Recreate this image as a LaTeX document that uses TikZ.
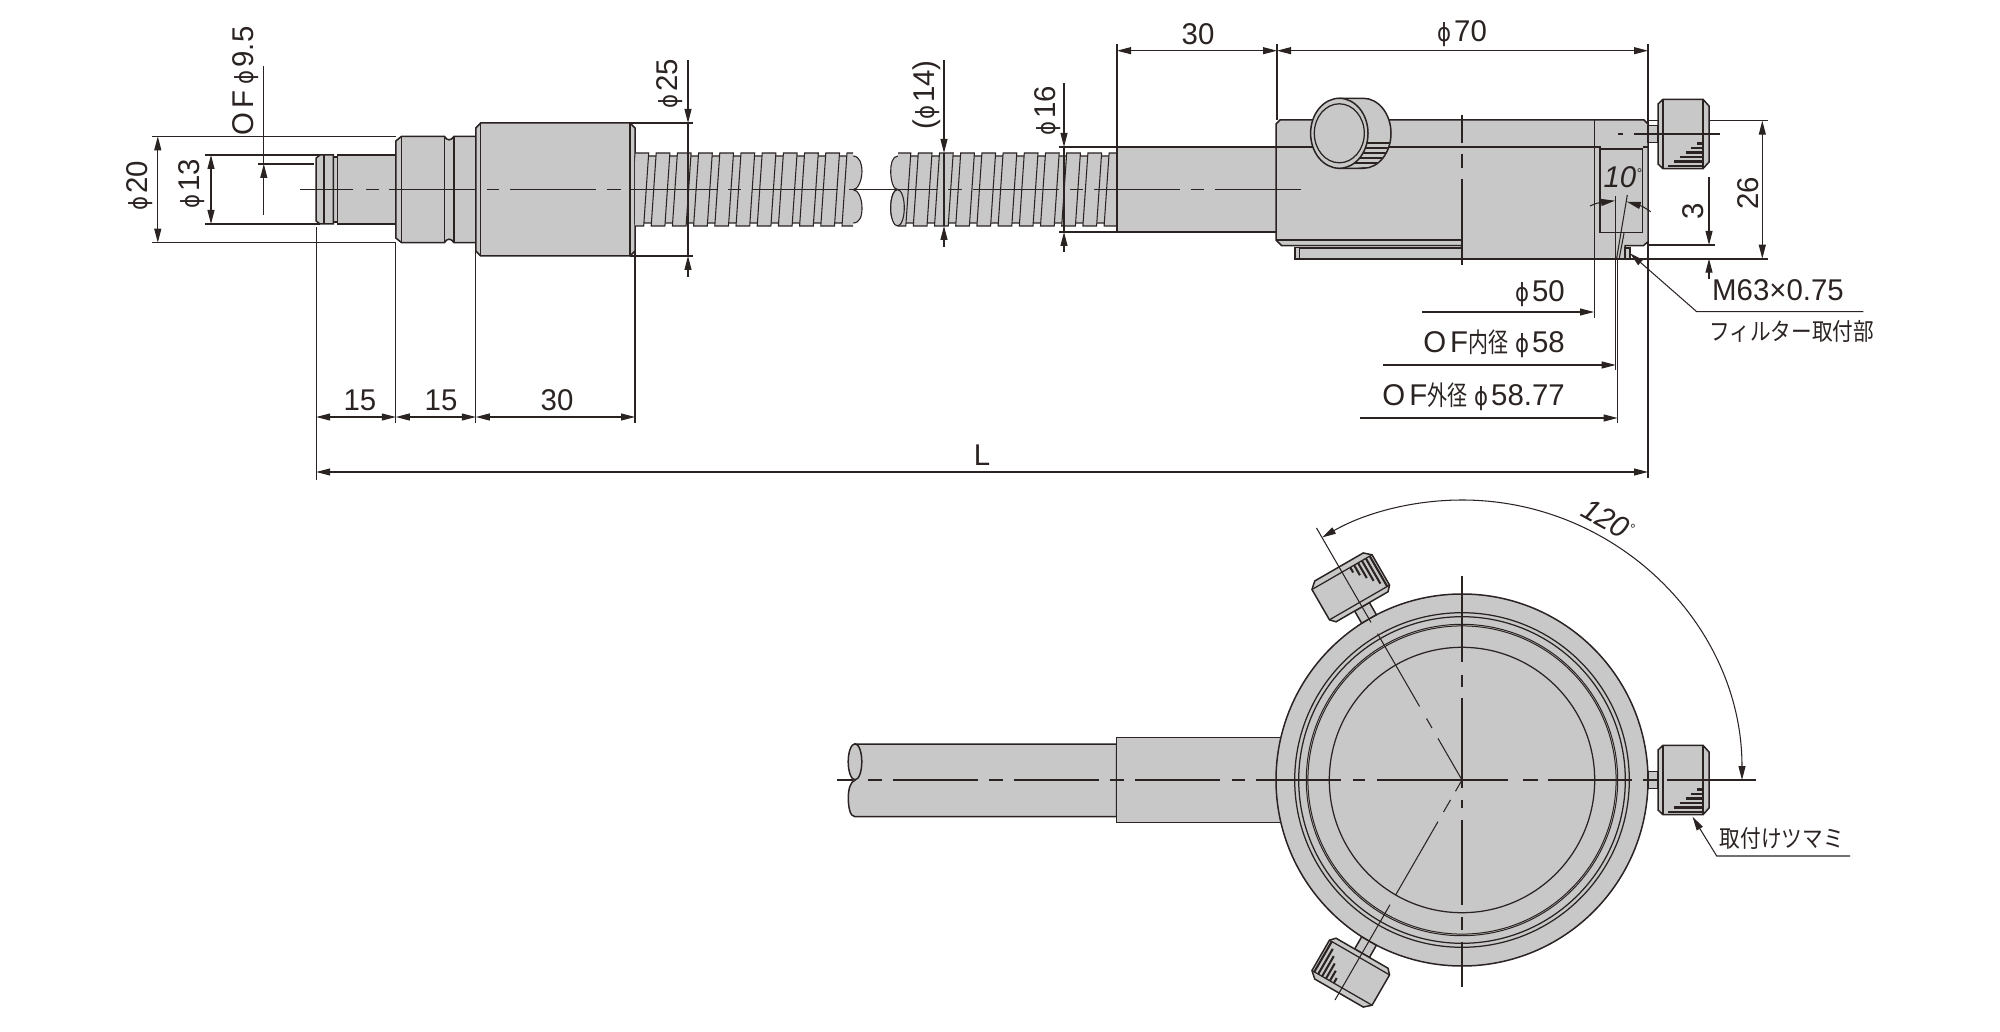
\documentclass[tikz,border=0pt]{standalone}
\usepackage{fontspec}
\usetikzlibrary{arrows.meta}
\setmainfont[FakeStretch=0.98]{Liberation Sans}
\newfontfamily\phifont[FakeStretch=0.85]{DejaVu Sans}
\newfontfamily\jpfont[FakeStretch=0.86]{Noto Sans CJK JP}
\newfontfamily\jpnarrow[FakeStretch=0.74]{Noto Sans CJK JP}
\definecolor{ink}{HTML}{2A2322}
\definecolor{partgray}{HTML}{C8C8C8}
\newcommand\PHI{{\fontsize{25}{25}\phifont ϕ}\kern3pt}
\newcommand\DEG{\raisebox{9pt}{\fontsize{14}{14}\selectfont °}}
\tikzset{
  x=1pt,y=-1pt,
  part/.style={draw=ink,fill=partgray,line width=1.5pt,line join=miter},
  edge/.style={draw=ink,line width=1.25pt},
  dimline/.style={draw=ink,line width=1.05pt},
  darrow/.style={dimline,-{Triangle[length=14pt,width=7pt]}},
  bothway/.style={dimline,{Triangle[length=14pt,width=7pt]}-{Triangle[length=14pt,width=7pt]}},
  cl/.style={draw=ink,line width=1.05pt},
  lbl/.style={text=ink,inner sep=0pt,font=\fontsize{30}{30}\selectfont},
  jplbl/.style={text=ink,inner sep=0pt,font=\fontsize{24}{24}\selectfont\jpfont},
}
% cx cy rotation near far
\newcommand\knobfig[5]{%
\begin{scope}[shift={(#1,#2)},rotate=#3]
  \path[part] (186,-8.5) rectangle (#4,8.5);
  \path[part] (#4,-30)--({#4+5},-34.7)--({#5-6},-34.7)--(#5,-28)--(#5,28)--({#5-6},34.7)--({#4+5},34.7)--(#4,30)--cycle;
  \draw[edge] ({#4+5},-34.7)--({#4+5},34.7);
  \draw[edge] ({#5-6},-34.7)--({#5-6},34.7);
  \foreach \k in {0,...,6}{
    \pgfmathsetmacro\yy{5+4.5*\k}
    \pgfmathsetmacro\xx{#5-6-(\yy-5)*35/27}
    \draw[draw=ink,line width=2.1pt] (\xx,\yy)--({#5-6},\yy);
  }
\end{scope}}
\begin{document}
\begin{tikzpicture}
\useasboundingbox (0,0) rectangle (2000,1032);

% ---------- extension lines (top view)
\draw[dimline] (151.7,136.3)--(396,136.3);
\draw[dimline] (151.7,242.7)--(396,242.7);
\draw[dimline] (205,155)--(320,155);
\draw[dimline] (205,224)--(320,224);
\draw[dimline] (258,164)--(314,164);
\draw[dimline] (316.2,227)--(316.2,480);
\draw[dimline] (395.8,243)--(395.8,423);
\draw[dimline] (475.8,250)--(475.8,423);
\draw[dimline] (635,250)--(635,423);
\draw[dimline] (630,123)--(693,123);
\draw[dimline] (630,256)--(693,256);
\draw[dimline] (1059,147)--(1117,147);
\draw[dimline] (1059,232)--(1117,232);
\draw[dimline] (1117,44)--(1117,147);
\draw[dimline] (1277,44)--(1277,120);
\draw[dimline] (1648,44)--(1648,478);

% ---------- plug
\path[part] (337.3,157)--(333.4,157)--(333.4,222)--(337.3,222)--cycle;
\path[part] (316.2,158)--(320,155)--(333.4,155)--(333.4,224)--(320,224)--(316.2,221)--cycle;
\draw[edge] (323.9,155)--(323.9,224);
\path[part] (337.3,155)--(395.8,155)--(395.8,224)--(337.3,224)--cycle;
\path[part] (395.8,141)--(401.6,136.3)--(444.4,136.3) .. controls (447,141) and (451,141) .. (454,136.3)--(475.8,136.3)--(475.8,242.7)--(454,242.7) .. controls (451,238) and (447,238) .. (444.4,242.7)--(401.6,242.7)--(395.8,238)--cycle;
\draw[edge] (401.6,136.3)--(401.6,242.7);
\draw[edge] (444.4,137)--(444.4,242);
\draw[edge] (454,137)--(454,242);
\path[part] (475.8,128)--(480.8,123)--(630,123)--(635,128)--(635,251)--(630,256)--(480.8,256)--(475.8,251)--cycle;
\draw[edge] (480.8,123)--(480.8,256);
\draw[edge] (630,123)--(630,256);

% ---------- corrugated tube, left piece
\begin{scope}
  \path[part,line width=1.1pt] (635,156)--(853,156) .. controls (860,156) and (862,165) .. (862,171) .. controls (862,180) and (858,189.7) .. (853,189.7) .. controls (858,189.7) and (862,198) .. (862,208) .. controls (862,216) and (860,223) .. (853,223)--(635,223)--cycle;
  \begin{scope}
    \clip (635,150) rectangle (853,230);
    \foreach \k in {0,...,10}{
      \pgfmathsetmacro\xa{635+21.2*\k}
      \path[part,line width=1.05pt] (\xa,153)--({\xa+13.7},153)--({\xa+8.7},226)--({\xa-5},226)--cycle;
    }
  \end{scope}
\end{scope}
% ---------- corrugated tube, right piece
\path[part,line width=1.1pt] (1117,156)--(898,156) .. controls (892,156) and (890.7,165) .. (890.7,171) .. controls (890.7,180) and (893,189.7) .. (898,189.7) .. controls (893,189.7) and (890.7,198) .. (890.7,208) .. controls (890.7,216) and (892,223) .. (898,223)--(1117,223)--cycle;
\begin{scope}
  \clip (898,150) rectangle (1117,230);
  \foreach \k in {-1,...,9}{
    \pgfmathsetmacro\xa{918.3+21.2*\k}
    \path[part,line width=1.05pt] (\xa,153)--({\xa+13.7},153)--({\xa+8.7},226)--({\xa-5},226)--cycle;
  }
\end{scope}
\path[part,line width=1.1pt] (897.5,207.8) ellipse[x radius=6.8pt,y radius=18.2pt];

% ---------- clamp tube and head
\path[part] (1117,147) rectangle (1277,232);
\path[part] (1276,124)--(1280,120)--(1644,120)--(1648,124)--(1648,241.7)--(1643.3,245.7)--(1625,245.7)--(1625,259)--(1461.7,259)--(1461.7,245.7)--(1281.7,245.7)--(1276,240)--cycle;
\path[part] (1295,247.7) rectangle (1461.7,259);
\draw[edge] (1299.3,247.7)--(1299.3,259);
\draw[edge] (1276,240)--(1461.7,240);
\draw[edge] (1299.3,248.3)--(1461.7,248.3);
\draw[edge] (1594.3,120)--(1594.3,259);
\draw[edge] (1276,147)--(1600,147)--(1600,232.3)--(1642.5,232.3)--(1642.5,149)--(1600,149);
\draw[edge] (1642.5,147)--(1648,147);
\path[part,line width=1.1pt] (1625,248) rectangle (1630,258.4);
\draw[dimline] (1461.7,259)--(1767.7,259);
\draw[dimline] (1648,120.7)--(1767.7,120.7);
\draw[dimline] (1648,245)--(1715,245);
\draw[dimline] (1594.3,259)--(1594.3,317.7);
\draw[dimline] (1615.7,196)--(1615.7,370);
\draw[dimline] (1617.6,259)--(1617.6,423);
\draw[dimline] (1627.3,195)--(1616.7,258);
\draw[dimline] (1624,233.3)--(1619.3,258);

% round knob on the head
\begin{scope}
  \path[part] (1339,98.3)--(1363.3,98.3) arc[start angle=90,end angle=-90,x radius=27.7pt,y radius=35pt]--(1339,168.3)--cycle;
  \begin{scope}
    \clip (1363.3,133.3) ellipse[x radius=27pt,y radius=34.5pt];
    \foreach \yy in {143,148,...,168}{
      \draw[draw=ink,line width=2pt] (1340,\yy)--(1395,\yy);
    }
  \end{scope}
  \path[part] (1339.3,133.3) ellipse[x radius=28.7pt,y radius=35pt];
  \draw[edge] (1339.3,133.3) ellipse[x radius=25pt,y radius=29.5pt];
\end{scope}

% top-view clamp knob
\knobfig{1462}{134}{0}{196}{247}

% centre lines, top view
\foreach \a/\b in {299.8/352.6,366/379,389/475,486.5/498.8,510/595.6,607/620.5,631/717,728/741,752/838,849/938,948/962,972.7/1059,1070/1083,1094/1180,1191/1204,1215/1301}{
  \draw[cl] (\a,189.7)--(\b,189.7);
}
\foreach \a/\b in {1618/1622.7,1634/1720}{\draw[cl] (\a,134)--(\b,134);}
\foreach \a/\b in {115/143,154/167.7,179/265}{\draw[cl] (1462,\a)--(1462,\b);}

% ---------- dimension arrows, top view
\draw[bothway] (157.8,136.3)--(157.8,242.7);
\draw[bothway] (211,155)--(211,224);
\draw[dimline] (263.8,66)--(263.8,164);
\draw[darrow] (263.8,215)--(263.8,164);
\draw[darrow] (688,60)--(688,123);
\draw[dimline] (688,123)--(688,256);
\draw[darrow] (688,277)--(688,256);
\draw[darrow] (944,60)--(944,153);
\draw[dimline] (944,153)--(944,226);
\draw[darrow] (944,246.7)--(944,226);
\draw[darrow] (1064,83)--(1064,147);
\draw[dimline] (1064,147)--(1064,232);
\draw[darrow] (1064,252)--(1064,232);
\draw[bothway] (1117,50.7)--(1277,50.7);
\draw[bothway] (1277,50.7)--(1648,50.7);
\draw[bothway] (316.2,417)--(395.8,417);
\draw[bothway] (395.8,417)--(475.8,417);
\draw[bothway] (475.8,417)--(635,417);
\draw[bothway] (316.2,472)--(1648,472);
\draw[bothway] (1762.3,120.7)--(1762.3,258.7);
\draw[darrow] (1709,177.3)--(1709,245);
\draw[darrow] (1709,279)--(1709,258.7);
\draw[darrow] (1421.7,312)--(1594,312);
\draw[darrow] (1383,365)--(1615.7,365);
\draw[darrow] (1360,418)--(1617.6,418);
\draw[darrow] (1590,206) .. controls (1597,203) .. (1615,200.7);
\draw[darrow] (1650.7,211.7) .. controls (1642,206) .. (1626.7,201.7);
\draw[darrow] (1863.3,311.7)--(1696.7,311.7)--(1630,253.3);

% ---------- labels, top view
\node[lbl,rotate=90] (tPhiTwenty) at (139.4,186) {\PHI 20};
\node[lbl,rotate=90] (tPhiThirteen) at (192,184) {\PHI 13};
\node[lbl,rotate=90] (tOFnine) at (246,81) {O\kern4pt F\kern6pt\PHI 9.5};
\node[lbl,rotate=90] (tPhiQuarter) at (670,84) {\PHI 25};
\node[lbl,rotate=90] (tPhiFourteen) at (927,95) {(\PHI 14)};
\node[lbl,rotate=90] (tPhiSixteen) at (1048,111) {\PHI 16};
\node[lbl] (tThirtyTop) at (1198,34) {30};
\node[lbl] (tPhiSeventy) at (1462,34) {\PHI 70};
\node[lbl] (tFifteenA) at (360,400) {15};
\node[lbl] (tFifteenB) at (441,400) {15};
\node[lbl] (tThirtyLow) at (557,400) {30};
\node[lbl] (tL) at (982,455) {L};
\node[lbl,rotate=90] (tTwentySix) at (1748,193) {26};
\node[lbl,rotate=90] (tThree) at (1692.7,211) {3};
\node[lbl,font=\fontsize{30}{30}\selectfont\itshape] (tTenDeg) at (1622.7,177) {10\DEG};
\node[lbl,anchor=west] (tMthread) at (1712,290) {M63×0.75};
\node[jplbl] (tFilter) at (1791.7,331) {フィルター取付部};
\node[lbl,anchor=east] (tPhiFifty) at (1565,294) {\PHI 50};
\node[lbl,anchor=east] (tOFin) at (1565,344) {O\kern4pt F{\fontsize{27}{27}\selectfont\jpnarrow 内径}\kern7pt\PHI 58};
\node[lbl,anchor=east] (tOFout) at (1565,397) {O\kern4pt F{\fontsize{27}{27}\selectfont\jpnarrow 外径}\kern7pt\PHI 58.77};

% ---------- bottom view
\path[part] (855,744)--(1116.7,744)--(1116.7,816.7)--(855,816.7) .. controls (850,816.7) and (848.3,807) .. (848.3,798) .. controls (848.3,790) and (850,782) .. (855,780)--cycle;
\path[part] (855,761.8) ellipse[x radius=6.8pt,y radius=18pt];
\path[part] (1116.7,737.3) rectangle (1300,822.7);
\path[part] (1462,780) circle[radius=186pt];
\draw[edge] (1462,780) circle[radius=167.3pt];
\draw[edge] (1462,780) circle[radius=163.3pt];
\draw[edge,line width=1pt] (1462,780) circle[radius=155.7pt];
\draw[edge,line width=1pt] (1462,780) circle[radius=154.1pt];
\draw[edge] (1462,780) circle[radius=132.7pt];
\knobfig{1462}{780}{0}{196}{247}
\knobfig{1462}{780}{120}{200}{246}
\knobfig{1462}{780}{240}{200}{246}

% centre lines, bottom view
\foreach \a/\b in {837.3/853,868.3/881.7,892.7/978.3,989.3/1002.7,1014/1099.3,1110/1124,1135/1220,1231.7/1245,1256/1340.7,1352.7/1365,1376.7/1508,1523/1537.5,1548/1632,1643/1658,1667/1756}{
  \draw[cl] (\a,780)--(\b,780);
}
\foreach \a/\b in {576/662,675/687,698/788,800/808,820/905,917/930,942/987}{
  \draw[cl] (1462,\a)--(1462,\b);
}
\begin{scope}[shift={(1462,780)},rotate=120]
  \foreach \a/\b in {0/48,60/71,85/169,182/291}{\draw[cl] (\a,0)--(\b,0);}
\end{scope}
\begin{scope}[shift={(1462,780)},rotate=240]
  \foreach \a/\b in {0/13,23/37,48/133,144/254}{\draw[cl] (\a,0)--(\b,0);}
\end{scope}
\begin{scope}[shift={(1462,780)},y=1pt]
  \draw[bothway] (280,0) arc[start angle=0,end angle=120,radius=280pt];
\end{scope}
\draw[darrow] (1850,856)--(1716.7,856)--(1692.5,816.7);
\node[lbl,rotate=-29,font=\fontsize{30}{30}\selectfont\itshape] (tAngle) at (1608,520) {120\DEG};
\node[jplbl] (tKnob) at (1781.8,838.7) {取付けツマミ};
\end{tikzpicture}
\end{document}
